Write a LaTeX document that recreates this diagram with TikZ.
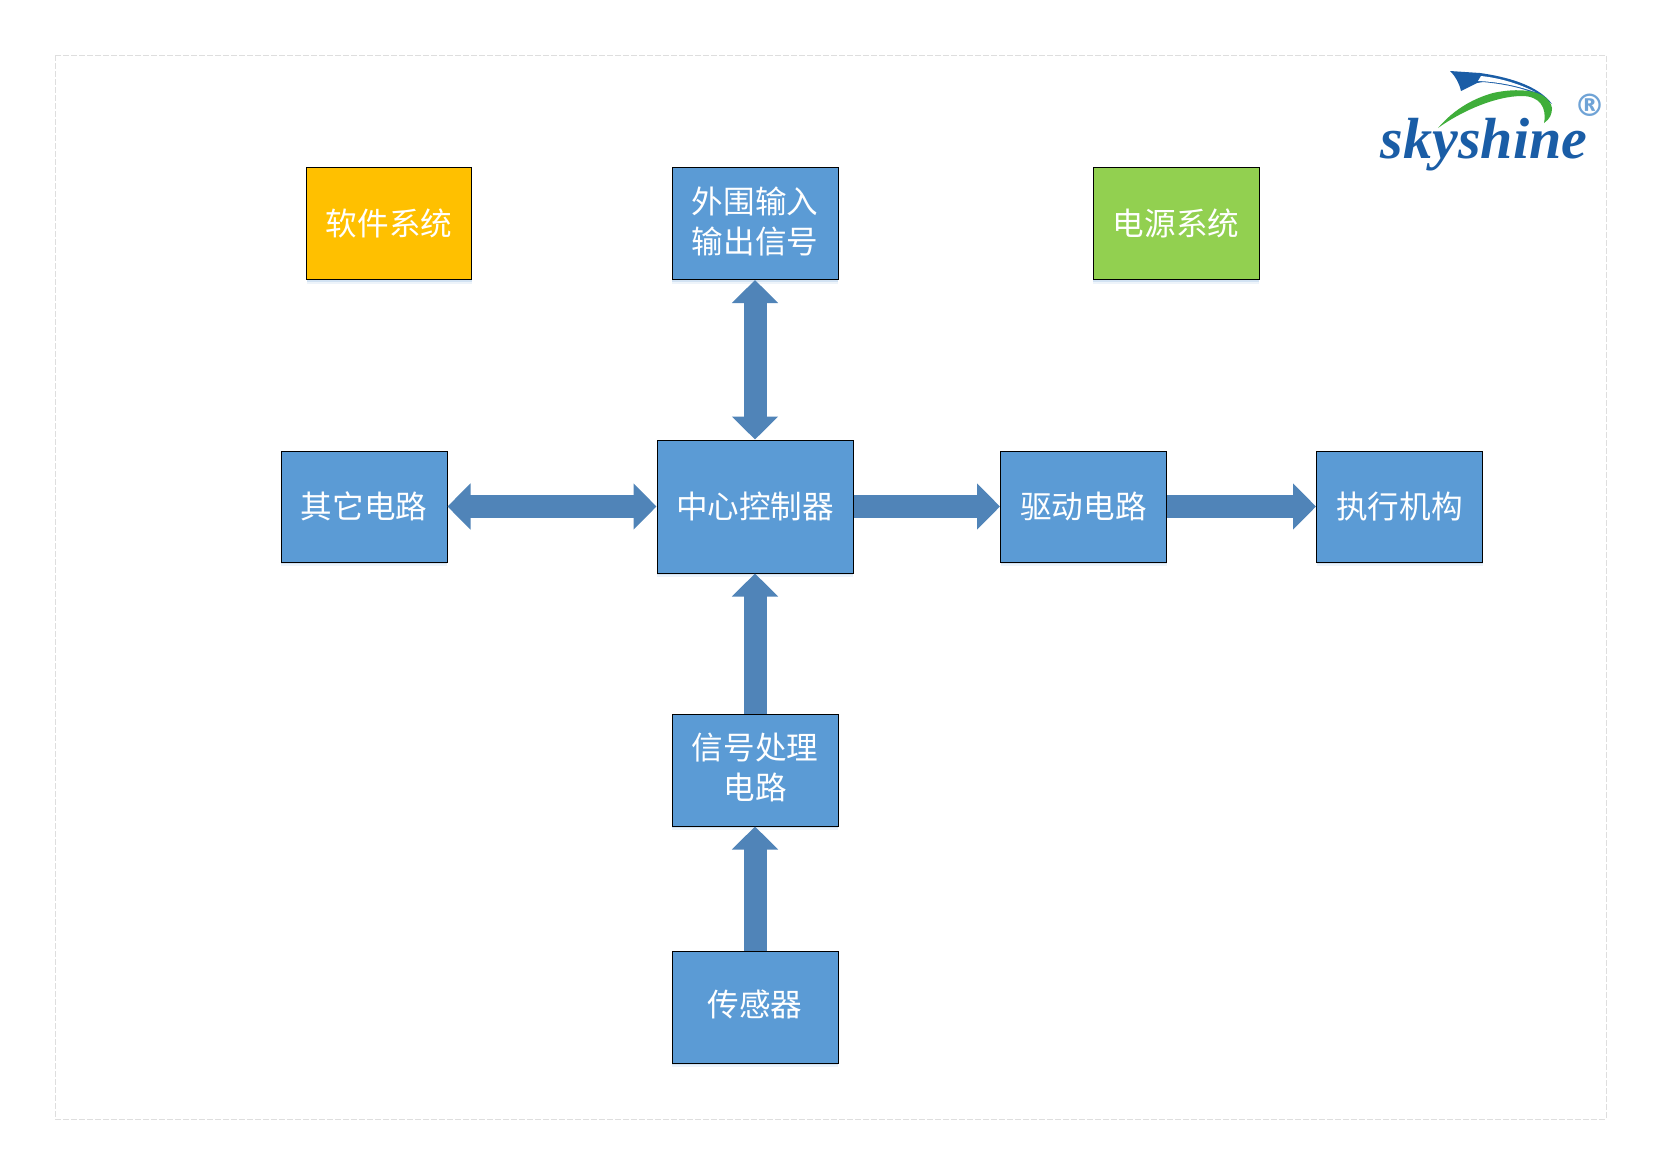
\documentclass[tikz,border=0pt]{standalone}
\usepackage{fontspec}
\usetikzlibrary{arrows.meta,shadows}
\newfontfamily\cjk{Noto Sans CJK SC}
\newfontfamily\logofont{Liberation Serif}
\newfontfamily\regfont{DejaVu Sans}
\newcommand{\lowpad}{\rule[-7pt]{0pt}{0pt}}
\definecolor{boxblue}{HTML}{5B9BD5}
\definecolor{arrowblue}{HTML}{5084B8}
\definecolor{softyellow}{HTML}{FFC000}
\definecolor{powergreen}{HTML}{92D050}
\definecolor{logoblue}{HTML}{1A5DA6}
\definecolor{logogreen}{HTML}{3FAE3A}
\definecolor{regblue}{HTML}{6FA3D6}
\tikzset{
  softshadow/.style={preaction={fill=boxblue,fill opacity=.10,draw=none,transform canvas={yshift=-4pt}},
                     preaction={fill=boxblue,fill opacity=.18,draw=none,transform canvas={yshift=-2pt}}},
  blockbox/.style={draw=black,line width=1pt,fill=boxblue,text=white,align=center,
    minimum width=166pt,minimum height=112pt,inner sep=0pt,softshadow,
    font=\cjk\fontsize{31.6}{40}\selectfont},
  thickflow/.style={draw=arrowblue,line width=23pt},
  oneway/.style={thickflow,-{Triangle[width=45pt,length=23pt,fill=arrowblue]}},
  twoway/.style={thickflow,{Triangle[width=45pt,length=23pt,fill=arrowblue]}-{Triangle[width=45pt,length=23pt,fill=arrowblue]}},
}
\begin{document}
\begin{tikzpicture}[x=1pt,y=-1pt]
\useasboundingbox (0,0) rectangle (1661,1171);
\fill[white] (0,0) rectangle (1661,1171);
\draw[draw=black!13,line width=1pt,dash pattern=on 6pt off 2pt] (55,55) rectangle (1606,1119);

\node[blockbox,fill=softyellow,minimum width=165pt] (soft) at (389,223.5) {软件系统};
\node[blockbox] (top) at (755,223.5) {外围输入\\输出信号\lowpad};
\node[blockbox,fill=powergreen] (power) at (1176,223.5) {电源系统};
\node[blockbox,minimum height=111pt] (other) at (364,506.5) {其它电路};
\node[blockbox,minimum width=196pt,minimum height=133pt] (ctrl) at (755,506.5) {中心控制器};
\node[blockbox,minimum height=111pt] (drive) at (1083.5,506.5) {驱动电路};
\node[blockbox,minimum height=111pt] (exec) at (1399.5,506.5) {执行机构};
\node[blockbox] (signal) at (755,770) {信号处理\\电路\lowpad};
\node[blockbox] (sensor) at (755,1007) {传感器\lowpad};

\draw[twoway] (top.south) -- (ctrl.north);
\draw[twoway] (other.east) -- (ctrl.west);
\draw[oneway] (ctrl.east) -- (drive.west);
\draw[oneway] (drive.east) -- (exec.west);
\draw[oneway] (signal.north) -- (ctrl.south);
\draw[oneway] (sensor.north) -- (signal.south);

% logo
\fill[logoblue] (1450,71) -- (1480,73) .. controls (1515,78) and (1540,88) .. (1552,104)
  .. controls (1538,92) and (1515,85) .. (1483,82) -- (1477,83) -- (1461,91) .. controls (1459,83) and (1456,77) .. (1450,71) -- cycle;
\fill[white] (1481,76) .. controls (1500,78) and (1520,84) .. (1535,92) .. controls (1518,86) and (1500,82) .. (1478,81) -- cycle;
\fill[logogreen] (1438,128) .. controls (1455,108) and (1475,98) .. (1493,93)
  .. controls (1515,88) and (1548,88) .. (1552,108) .. controls (1552,114) and (1550,119) .. (1544,123)
  .. controls (1547,108) and (1540,96) .. (1522,96) .. controls (1495,96) and (1460,112) .. (1438,128) -- cycle;
\node[inner sep=0pt,anchor=base,text=logoblue] (logotext) at (1484,158)
  {\logofont\bfseries\itshape\fontsize{58}{58}\selectfont skyshine};
\node[inner sep=0pt,anchor=base,text depth=0pt,text=regblue] (logoreg) at (1590,116) {\regfont\bfseries\fontsize{31}{31}\selectfont ®};
\end{tikzpicture}
\end{document}
